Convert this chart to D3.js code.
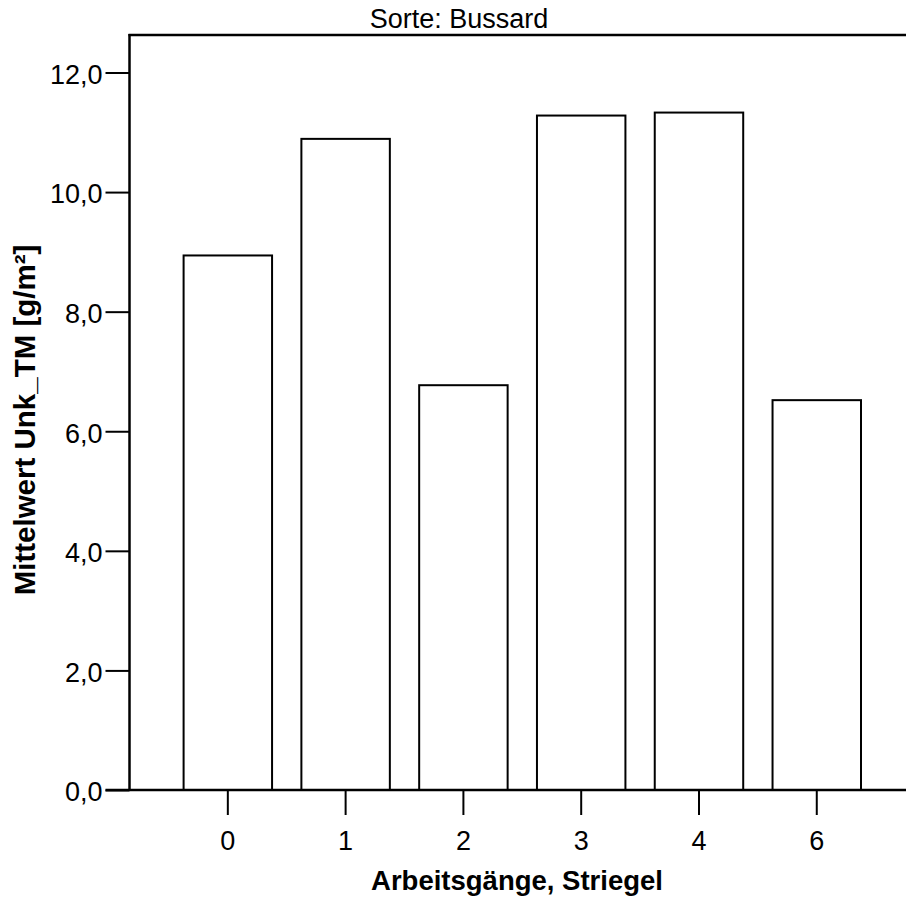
<!DOCTYPE html>
<html>
<head>
<meta charset="utf-8">
<script src="https://cdn.jsdelivr.net/npm/d3@7"></script>
<style>
  html, body { margin: 0; padding: 0; background: #fff; }
  svg { display: block; }
  text { font-family: "Liberation Sans", Arial, Helvetica, sans-serif; fill: #000; }
</style>
</head>
<body>
<svg id="chart" width="906" height="899"></svg>
<script>
const categories = ["0", "1", "2", "3", "4", "6"];
const values = [8.94, 10.89, 6.77, 11.28, 11.33, 6.52];
const yTicks = [0, 2, 4, 6, 8, 10, 12];
const title = "Sorte: Bussard";
const xTitle = "Arbeitsgänge, Striegel";
const yTitle = "Mittelwert Unk_TM [g/m²]";

const svg = d3.select("#chart");
const W = 906;
const plotLeft = 129.5, plotBottom = 790, plotTop = 35;

const x = d3.scaleBand().domain(categories).range([183.6, 861]).paddingInner(0.249).paddingOuter(0);
const y = d3.scaleLinear().domain([0, 12]).range([plotBottom, 72.5]);

const fmt = d => d3.format(".1f")(d).replace(".", ",");

// bars
svg.append("g").selectAll("rect").data(values).join("rect")
  .attr("x", (d, i) => x(categories[i]))
  .attr("y", d => y(d))
  .attr("width", x.bandwidth())
  .attr("height", d => y(0) - y(d))
  .attr("fill", "#fff")
  .attr("stroke", "#000")
  .attr("stroke-width", 2);

// y axis
const yAxis = svg.append("g").attr("transform", `translate(${plotLeft},0)`)
  .call(d3.axisLeft(y).tickValues(yTicks).tickFormat(fmt).tickSize(24).tickPadding(3));
yAxis.select(".domain").remove();
yAxis.selectAll(".tick line").attr("stroke", "#000").attr("stroke-width", 2);
yAxis.selectAll(".tick text").attr("font-size", 27).attr("dy", "0.4em");

// x axis
const xAxis = svg.append("g").attr("transform", `translate(0,${plotBottom})`)
  .call(d3.axisBottom(x).tickSize(25).tickPadding(16));
xAxis.select(".domain").remove();
xAxis.selectAll(".tick line").attr("stroke", "#000").attr("stroke-width", 2);
xAxis.selectAll(".tick text").attr("font-size", 27);

// frame lines
svg.append("line").attr("x1", plotLeft).attr("x2", plotLeft).attr("y1", plotTop - 1).attr("y2", plotBottom + 1)
  .attr("stroke", "#000").attr("stroke-width", 2.5);
svg.append("line").attr("x1", plotLeft - 1).attr("x2", W).attr("y1", plotTop).attr("y2", plotTop)
  .attr("stroke", "#000").attr("stroke-width", 2.5);
svg.append("line").attr("x1", plotLeft - 24).attr("x2", W).attr("y1", plotBottom).attr("y2", plotBottom)
  .attr("stroke", "#000").attr("stroke-width", 2.5);

// titles
svg.append("text").attr("x", 459).attr("y", 28).attr("text-anchor", "middle")
  .attr("font-size", 27).text(title);
svg.append("text").attr("x", 517).attr("y", 890).attr("text-anchor", "middle")
  .attr("font-size", 27.5).attr("font-weight", "bold").text(xTitle);
svg.append("text").attr("transform", "translate(35,420) rotate(-90)").attr("text-anchor", "middle")
  .attr("font-size", 29.5).attr("font-weight", "bold").text(yTitle);
</script>
</body>
</html>
